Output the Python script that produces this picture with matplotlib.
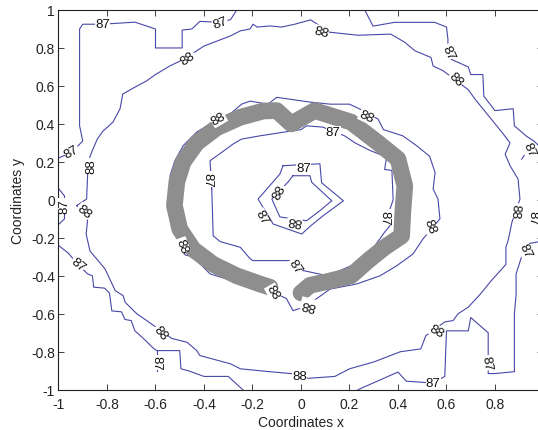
import matplotlib
matplotlib.use("Agg")
import matplotlib.pyplot as plt
import numpy as np

plt.rcParams['font.family'] = ['Liberation Sans', 'DejaVu Sans']

# ---------------- data ----------------
levels = [87, 88]

# outer 87 contour pieces
c87_top = [(-1.0, 0.22), (-0.946, 0.25), (-0.90, 0.31), (-0.913, 0.39), (-0.913, 0.90),
           (-0.90, 0.925), (-0.82, 0.925), (-0.685, 0.936), (-0.60, 0.90), (-0.60, 0.80),
           (-0.49, 0.80), (-0.49, 0.894), (-0.45, 0.90), (-0.417, 0.94), (-0.33, 0.935),
           (-0.29, 0.95), (-0.265, 1.0)]
c87_right = [(0.263, 1.0), (0.297, 0.915), (0.386, 0.935), (0.551, 0.935), (0.60, 0.91),
             (0.606, 0.846), (0.606, 0.778), (0.62, 0.74), (0.69, 0.70), (0.70, 0.66),
             (0.75, 0.66), (0.754, 0.546), (0.80, 0.47), (0.875, 0.48), (0.88, 0.39),
             (0.93, 0.335), (0.96, 0.31), (0.985, 0.28), (0.985, -0.22), (0.94, -0.23),
             (0.907, -0.31), (0.887, -0.39), (0.887, -0.50), (0.88, -0.60), (0.88, -0.905),
             (0.80, -0.915), (0.772, -0.915), (0.772, -0.70), (0.70, -0.62), (0.69, -0.69),
             (0.60, -0.69), (0.593, -0.93), (0.545, -0.965), (0.434, -0.955), (0.40, -0.907),
             (0.235, -1.0)]
c87_right_tail = [(0.95, 0.29), (0.91, 0.214)]
c87_bottom = [(-0.24, -1.0), (-0.30, -0.93), (-0.40, -0.93), (-0.465, -0.90), (-0.495, -0.89),
              (-0.50, -0.794), (-0.595, -0.794), (-0.61, -0.78), (-0.65, -0.73), (-0.685, -0.69),
              (-0.70, -0.636), (-0.726, -0.63), (-0.74, -0.59), (-0.78, -0.585), (-0.79, -0.49),
              (-0.81, -0.465), (-0.855, -0.46), (-0.86, -0.40), (-0.88, -0.39), (-0.92, -0.34),
              (-0.96, -0.28), (-1.0, -0.24)]
c87_bottom_spur = [(-0.595, -0.794), (-0.595, -0.90)]
c87_left = [(-1.0, 0.06), (-0.975, 0.02), (-0.975, -0.10), (-1.0, -0.13)]

# outer 88 ring
c88_outer = [(-0.925, -0.03), (-0.884, 0.004), (-0.88, 0.127), (-0.87, 0.23), (-0.84, 0.32),
             (-0.818, 0.36), (-0.775, 0.41), (-0.746, 0.48), (-0.735, 0.557), (-0.69, 0.59),
             (-0.636, 0.627), (-0.60, 0.66), (-0.54, 0.706), (-0.50, 0.73), (-0.43, 0.785),
             (-0.40, 0.81), (-0.29, 0.864), (-0.25, 0.89), (-0.21, 0.90), (-0.198, 0.925),
             (-0.18, 0.91), (-0.128, 0.916), (-0.08, 0.91), (-0.026, 0.925), (0.04, 0.948),
             (0.118, 0.883), (0.235, 0.867), (0.37, 0.873), (0.428, 0.83), (0.47, 0.785),
             (0.536, 0.75), (0.545, 0.705), (0.586, 0.68), (0.69, 0.58), (0.718, 0.53),
             (0.828, 0.357), (0.862, 0.30), (0.842, 0.24), (0.862, 0.18), (0.895, 0.11),
             (0.903, 0.004), (0.87, -0.117), (0.855, -0.21), (0.845, -0.25), (0.845, -0.34),
             (0.81, -0.39), (0.785, -0.425), (0.74, -0.496), (0.69, -0.565), (0.648, -0.60),
             (0.627, -0.636), (0.593, -0.643), (0.515, -0.715), (0.494, -0.785), (0.41, -0.80),
             (0.30, -0.854), (0.20, -0.89), (0.14, -0.93), (0.03, -0.94), (-0.033, -0.916),
             (-0.13, -0.905), (-0.25, -0.89), (-0.29, -0.864), (-0.417, -0.82), (-0.43, -0.794),
             (-0.47, -0.75), (-0.533, -0.73), (-0.636, -0.636), (-0.677, -0.60), (-0.725, -0.54),
             (-0.733, -0.505), (-0.766, -0.478), (-0.808, -0.364), (-0.83, -0.33), (-0.87, -0.27),
             (-0.886, -0.18), (-0.88, -0.11), (-0.925, -0.03)]

# 88 contour hugging the heart
c88_heart = [(-0.52, -0.154), (-0.54, 0.0), (-0.54, 0.127), (-0.52, 0.206), (-0.486, 0.285),
             (-0.43, 0.357), (-0.362, 0.41), (-0.285, 0.46), (-0.245, 0.504), (-0.21, 0.52),
             (-0.136, 0.504), (-0.10, 0.54), (-0.045, 0.53), (0.037, 0.515), (0.12, 0.504),
             (0.20, 0.504), (0.243, 0.478), (0.318, 0.425), (0.34, 0.37), (0.42, 0.337),
             (0.477, 0.285), (0.53, 0.23), (0.553, 0.145), (0.545, 0.057), (0.565, 0.004),
             (0.573, -0.10), (0.503, -0.206), (0.462, -0.285), (0.395, -0.347), (0.326, -0.40),
             (0.23, -0.443), (0.12, -0.47), (0.065, -0.52), (0.0, -0.57), (-0.033, -0.584),
             (-0.06, -0.52), (-0.115, -0.486), (-0.17, -0.47), (-0.24, -0.45), (-0.306, -0.417),
             (-0.375, -0.39), (-0.445, -0.30), (-0.478, -0.29), (-0.52, -0.154)]

# inner 87 ring (inside the heart)
c87_inner = [(-0.368, 0.057), (-0.375, 0.206), (-0.327, 0.25), (-0.28, 0.294), (-0.245, 0.32),
             (-0.17, 0.337), (-0.074, 0.356), (0.0, 0.37), (0.023, 0.39), (0.09, 0.383),
             (0.18, 0.337), (0.223, 0.30), (0.285, 0.26), (0.353, 0.225), (0.345, 0.16),
             (0.375, 0.155), (0.38, 0.0), (0.367, -0.048), (0.367, -0.136), (0.345, -0.17),
             (0.30, -0.25), (0.22, -0.34), (0.11, -0.40), (0.0, -0.37), (-0.045, -0.32),
             (-0.198, -0.32), (-0.21, -0.31), (-0.25, -0.25), (-0.333, -0.22), (-0.362, -0.19),
             (-0.368, 0.057)]

# central small contours
c87_center = [(-0.074, 0.18), (0.078, 0.19), (0.085, 0.09), (0.175, -0.005), (0.092, -0.083),
              (0.037, -0.14), (0.003, -0.18), (-0.115, -0.127), (-0.177, 0.004), (-0.087, 0.136),
              (-0.074, 0.18)]
c88_center = [(-0.033, 0.127), (0.037, 0.127), (0.044, 0.093), (0.127, -0.005), (0.078, -0.057),
              (0.023, -0.11), (-0.087, -0.09), (-0.12, 0.004), (-0.054, 0.093), (-0.033, 0.127)]

contours = [c87_top, c87_right, c87_right_tail, c87_bottom, c87_bottom_spur, c87_left,
            c88_outer, c88_heart, c87_inner, c87_center, c88_center]

# heart-shaped gray band (centre line)
heart_x = [-0.128, -0.17, -0.265, -0.362, -0.445, -0.50, -0.522, -0.512, -0.486, -0.43,
           -0.347, -0.25, -0.155, -0.10, -0.04, 0.056, 0.206, 0.318, 0.40, 0.428,
           0.42, 0.415, 0.345, 0.277, 0.206, 0.11, 0.037, 0.0]
heart_y = [-0.46, -0.443, -0.40, -0.34, -0.26, -0.154, -0.03, 0.094, 0.20, 0.30,
           0.38, 0.435, 0.468, 0.47, 0.40, 0.47, 0.41, 0.30, 0.215, 0.074,
           -0.064, -0.19, -0.25, -0.32, -0.40, -0.43, -0.45, -0.49]

# contour labels: text, x, y, angle
labels = [("87", -0.817, 0.925, 0), ("87", -0.334, 0.935, 20), ("88", -0.466, 0.748, 35),
          ("88", 0.083, 0.885, -15), ("87", 0.606, 0.778, -65), ("88", 0.64, 0.636, -45),
          ("87", 0.94, 0.265, -65), ("87", 0.955, -0.09, -90), ("88", 0.882, -0.057, -95),
          ("87", 0.925, -0.265, -65), ("87", 0.765, -0.86, -80), ("87", 0.545, -0.965, 0),
          ("88", 0.557, -0.69, -30), ("88", -0.005, -0.93, 0), ("88", -0.58, -0.70, -50),
          ("87", -0.595, -0.855, -90), ("87", -0.92, -0.34, -40), ("88", -0.895, -0.06, -40),
          ("87", -0.975, -0.03, 90), ("88", -0.866, 0.18, 90), ("87", -0.946, 0.255, 30),
          ("88", -0.34, 0.425, 30), ("88", 0.27, 0.44, -25), ("88", 0.532, -0.136, -70),
          ("88", 0.03, -0.55, 165), ("88", -0.115, -0.486, -60), ("88", -0.49, -0.24, -70),
          ("87", 0.133, 0.357, 0), ("87", -0.385, 0.11, -90), ("87", -0.025, -0.35, -55),
          ("87", 0.345, -0.09, -90), ("87", 0.01, 0.17, 0), ("87", -0.162, -0.09, -60),
          ("88", -0.087, 0.04, 60), ("88", -0.025, -0.105, 170)]

xticks = [-1, -0.8, -0.6, -0.4, -0.2, 0, 0.2, 0.4, 0.6, 0.8]
xticklabels = ['-1', '-0.8', '-0.6', '-0.4', '-0.2', '0', '0.2', '0.4', '0.6', '0.8']
yticks = [-1, -0.8, -0.6, -0.4, -0.2, 0, 0.2, 0.4, 0.6, 0.8, 1]
yticklabels = ['-1', '-0.8', '-0.6', '-0.4', '-0.2', '0', '0.2', '0.4', '0.6', '0.8', '1']

# ---------------- drawing ----------------
fig = plt.figure(figsize=(5.38, 4.31), dpi=100)
ax = fig.add_axes([0.1087, 0.0935, 0.9015, 0.881])

line_color = '#4848a8'
for c in contours:
    xs = [p[0] for p in c]
    ys = [p[1] for p in c]
    ax.plot(xs, ys, color=line_color, lw=0.8, zorder=2)

ax.plot(heart_x, heart_y, color='#8e8e8e', lw=12, solid_capstyle='round',
        solid_joinstyle='round', zorder=3)

for t, x, y, r in labels:
    ax.text(x, y, t, rotation=r, ha='center', va='center', fontsize=9.5,
            color='#111111', rotation_mode='anchor', zorder=4,
            bbox=dict(facecolor='white', edgecolor='none', pad=0.2))

ax.set_xlim(-1, 1)
ax.set_ylim(-1, 1)
ax.set_xticks(xticks)
ax.set_xticklabels(xticklabels)
ax.set_yticks(yticks)
ax.set_yticklabels(yticklabels)
ax.tick_params(direction='in', top=True, right=True, length=4, width=0.6,
               labelsize=10, colors='#222222')
ax.tick_params(axis='x', pad=5)
ax.tick_params(axis='y', pad=2.5)
for s in ax.spines.values():
    s.set_linewidth(0.8)
    s.set_color('#222222')

ax.set_xlabel('Coordinates x', fontsize=10, color='#222222')
ax.set_ylabel('Coordinates y', fontsize=10, color='#222222')
ax.xaxis.set_label_coords(0.5, -0.066)
ax.yaxis.set_label_coords(-0.070, 0.5)

fig.savefig('out.png', dpi=100)
